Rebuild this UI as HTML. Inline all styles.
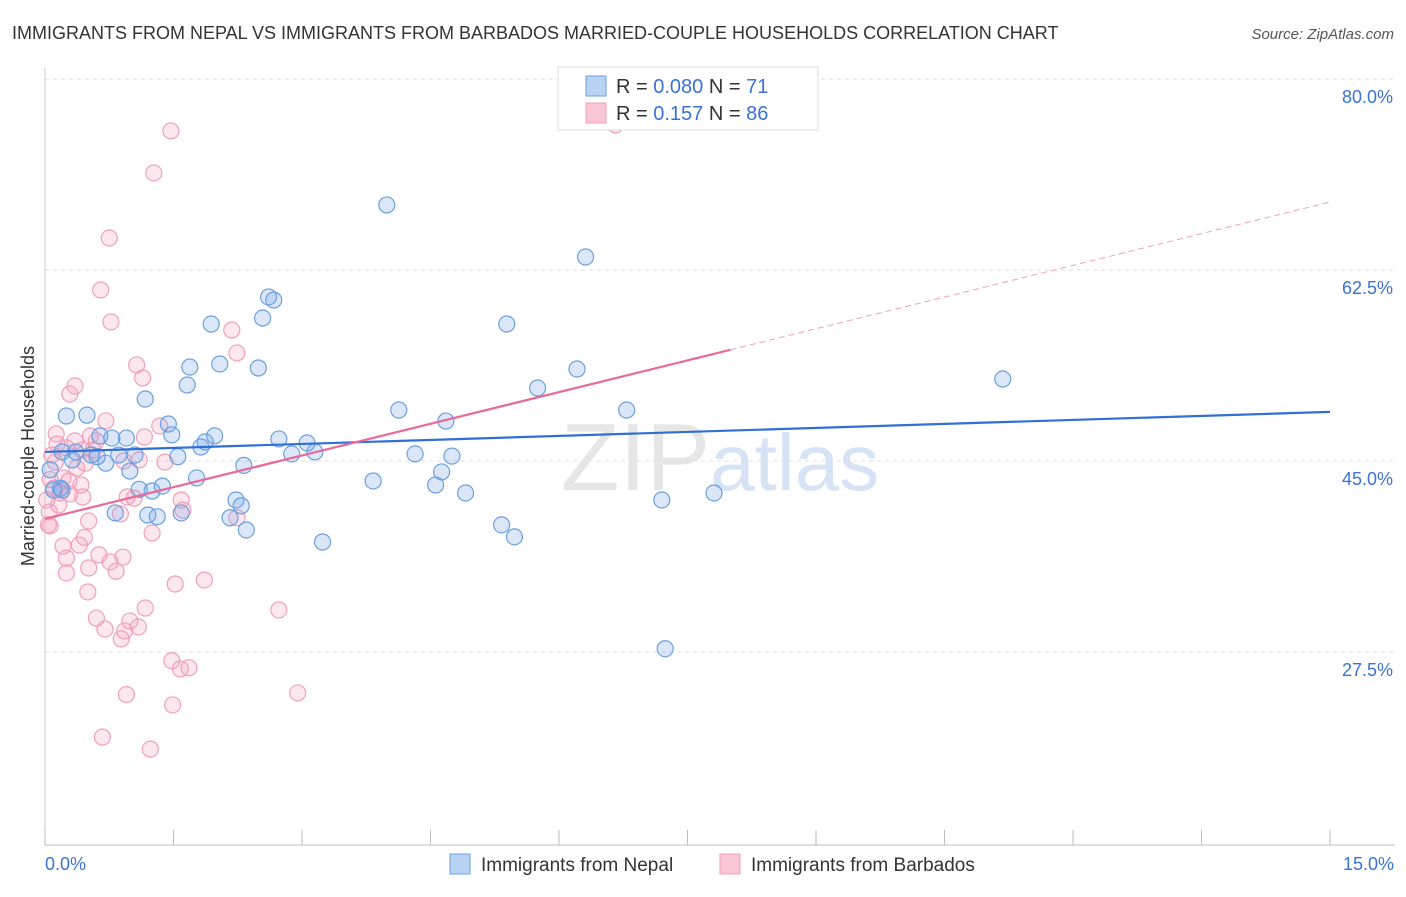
<!DOCTYPE html>
<html><head><meta charset="utf-8"><style>
body{margin:0;background:#fff;font-family:"Liberation Sans",sans-serif;}
svg text{font-family:"Liberation Sans",sans-serif;}
</style></head><body>
<svg id="chart" width="1406" height="892" viewBox="0 0 1406 892" xmlns="http://www.w3.org/2000/svg">
<text x="12" y="39" font-size="18" fill="#333">IMMIGRANTS FROM NEPAL VS IMMIGRANTS FROM BARBADOS MARRIED-COUPLE HOUSEHOLDS CORRELATION CHART</text>
<text x="1394" y="39" font-size="15" fill="#555" font-style="italic" text-anchor="end">Source: ZipAtlas.com</text>
<g id="grid"></g>
<g id="axes"></g>
<text x="720" y="490" font-size="96" text-anchor="middle" fill="#e6e6e6" font-family="Liberation Serif,serif">ZIP<tspan fill="#d5e3f4" font-family="Liberation Sans,sans-serif" font-size="80">atlas</tspan></text>
<g id="points"></g>
<g id="trends"></g>
<text transform="translate(34,456) rotate(-90)" font-size="18" fill="#333" text-anchor="middle">Married-couple Households</text>
<g>
<rect x="558" y="67" width="260" height="63" fill="#fff" stroke="#ddd"/>
<rect x="586" y="76" width="20" height="20" fill="#b9d3f5" stroke="#6a9fe0"/>
<rect x="586" y="103" width="20" height="20" fill="#f9c6d5" stroke="#f0a0b8"/>
<text x="616" y="93" font-size="20" fill="#333">R = <tspan fill="#3a72d8">0.080</tspan>   N =  <tspan fill="#3a72d8">71</tspan></text>
<text x="616" y="120" font-size="20" fill="#333">R =  <tspan fill="#3a72d8">0.157</tspan>   N = <tspan fill="#3a72d8">86</tspan></text>
</g>
<g>
<rect x="450" y="854" width="20" height="20" fill="#b9d3f5" stroke="#6a9fe0"/>
<text x="481" y="871" font-size="19" fill="#333">Immigrants from Nepal</text>
<rect x="720" y="854" width="20" height="20" fill="#f9c6d5" stroke="#f0a0b8"/>
<text x="751" y="871" font-size="19" fill="#333">Immigrants from Barbados</text>
</g>
</svg>
<script>
const yTicks=[80,62.5,45,27.5];
const xTickLabels=["0.0%","15.0%"];
const nepalX=[3.99,6.31,2.61,2.67,2.54,1.94,5.39,1.69,2.04,2.49,6.21,11.18,5.75,1.66,1.17,4.13,6.79,0.25,0.49,1.44,4.68,0.64,0.78,0.95,1.48,1.98,2.73,3.06,1.87,1.82,0.2,0.36,0.54,0.61,0.86,1.05,1.55,2.88,3.15,4.32,4.75,0.32,0.71,2.32,0.99,1.77,4.63,3.83,4.56,0.1,0.2,1.1,1.25,1.37,4.91,7.81,7.2,2.23,2.29,0.82,1.2,1.31,1.59,2.16,2.35,5.33,5.48,3.24,7.24,0.18,0.06];
const nepalY=[68.46,63.69,60.03,59.75,58.1,57.55,57.55,53.61,53.89,53.52,53.43,52.51,51.69,51.96,50.68,49.67,49.67,49.12,49.2,48.39,48.66,47.29,47.1,47.1,47.4,47.3,47.02,46.65,46.75,46.28,45.83,45.83,45.55,45.4,45.55,45.55,45.4,45.65,45.83,45.65,45.45,45.1,44.8,44.6,44.08,43.45,44.0,43.17,42.8,42.34,42.34,42.4,42.25,42.7,42.07,42.07,41.43,41.43,40.9,40.24,40.05,39.9,40.24,39.8,38.68,39.15,38.05,37.58,27.8,42.5,44.2];
const barbX=[1.47,1.27,6.66,0.75,0.65,0.77,2.18,2.24,1.07,1.14,0.35,0.29,0.71,0.13,1.34,1.16,0.35,0.53,0.6,0.14,0.25,0.43,0.56,0.08,0.12,0.47,0.92,1.1,1.4,0.37,0.21,0.28,0.42,0.1,0.18,0.29,0.44,0.96,1.04,1.59,0.16,0.05,0.88,1.61,2.24,0.51,1.25,0.06,0.21,0.4,0.46,0.63,0.25,0.76,0.91,0.51,0.25,0.83,1.86,1.52,0.5,1.17,2.73,0.6,0.99,1.09,0.7,0.93,0.89,1.48,1.58,1.68,0.95,2.95,1.49,0.67,1.23,0.04,0.02,0.06];
const barbY=[75.24,71.39,75.79,65.43,60.67,57.74,57.0,54.9,53.8,52.61,51.87,51.14,48.67,47.48,48.21,47.2,46.83,47.3,46.83,46.56,46.2,46.0,46.0,45.55,44.9,44.8,45.0,45.1,44.9,44.36,43.45,43.17,42.8,42.5,42.07,41.98,41.7,41.7,41.6,41.43,40.97,40.33,40.15,40.5,39.8,39.5,38.4,39.05,37.2,37.3,38.0,36.4,36.1,35.75,36.2,35.2,34.74,34.9,34.1,33.73,33.0,31.53,31.35,30.6,30.34,29.8,29.6,29.43,28.7,26.7,25.95,26.05,23.6,23.75,22.65,19.7,18.6,39.15,41.43,43.3];
const nepalTrend=[45.83,49.5];
const barbTrend=[39.7,68.73];
const barbSolidEnd=8.0;

const NS="http://www.w3.org/2000/svg";
const X=v=>45+v/15*1285;
const Y=v=>79+(80-v)/17.5*191;
function mk(tag,attrs,parent){const e=document.createElementNS(NS,tag);for(const k in attrs)e.setAttribute(k,attrs[k]);parent.appendChild(e);return e;}
const grid=document.getElementById('grid'),axes=document.getElementById('axes'),pts=document.getElementById('points'),tr=document.getElementById('trends');
yTicks.forEach(t=>{
 const l=mk('line',{x1:45,x2:1395,y1:Y(t),y2:Y(t),stroke:'#ddd','stroke-dasharray':'4,4'},grid);
 
 
 const tx=mk('text',{x:1393,y:Y(t)+24,'font-size':18,fill:'#3a72d8','text-anchor':'end'},axes);
 tx.textContent=t.toFixed(1)+'%';
 
 
});
const ax=mk('line',{x1:45,x2:1395,y1:845,y2:845,stroke:'#bbb'},axes);


const ay=mk('line',{x1:45,x2:45,y1:68,y2:845,stroke:'#ccc'},axes);


for(let i=0;i<=10;i++){const v=i*1.5;const t=mk('line',{x1:X(v),x2:X(v),y1:830,y2:845,stroke:'#bbb'},axes);
 
 }
[[0,'start',45],[15,'end',1394]].forEach((d,i)=>{const t=mk('text',{x:d[2],y:870,'font-size':18,fill:'#3a72d8','text-anchor':d[1]},axes);t.textContent=xTickLabels[i];
 
 });
function dots(xs,ys,fill,stroke,name){xs.forEach((x,i)=>{const c=mk('circle',{cx:X(x),cy:Y(ys[i]),r:8,fill:fill,stroke:stroke,'stroke-width':1.2},pts);
 
 });}
dots(barbX,barbY,'rgba(244,160,188,0.25)','#f0a0b8','point-barbados');
dots(nepalX,nepalY,'rgba(110,160,230,0.25)','#6a9fe0','point-nepal');
const bl=mk('line',{x1:X(0),y1:Y(nepalTrend[0]),x2:X(15),y2:Y(nepalTrend[1]),stroke:'#2f6fd6','stroke-width':2.2},tr);


const py=v=>barbTrend[0]+(barbTrend[1]-barbTrend[0])*v/15;
const pl=mk('line',{x1:X(0),y1:Y(barbTrend[0]),x2:X(barbSolidEnd),y2:Y(py(barbSolidEnd)),stroke:'#e8699a','stroke-width':2.2},tr);


const pd=mk('line',{x1:X(barbSolidEnd),y1:Y(py(barbSolidEnd)),x2:X(15),y2:Y(barbTrend[1]),stroke:'#f0a0b8','stroke-width':1,'stroke-dasharray':'6,4'},tr);


</script>
</body></html>
